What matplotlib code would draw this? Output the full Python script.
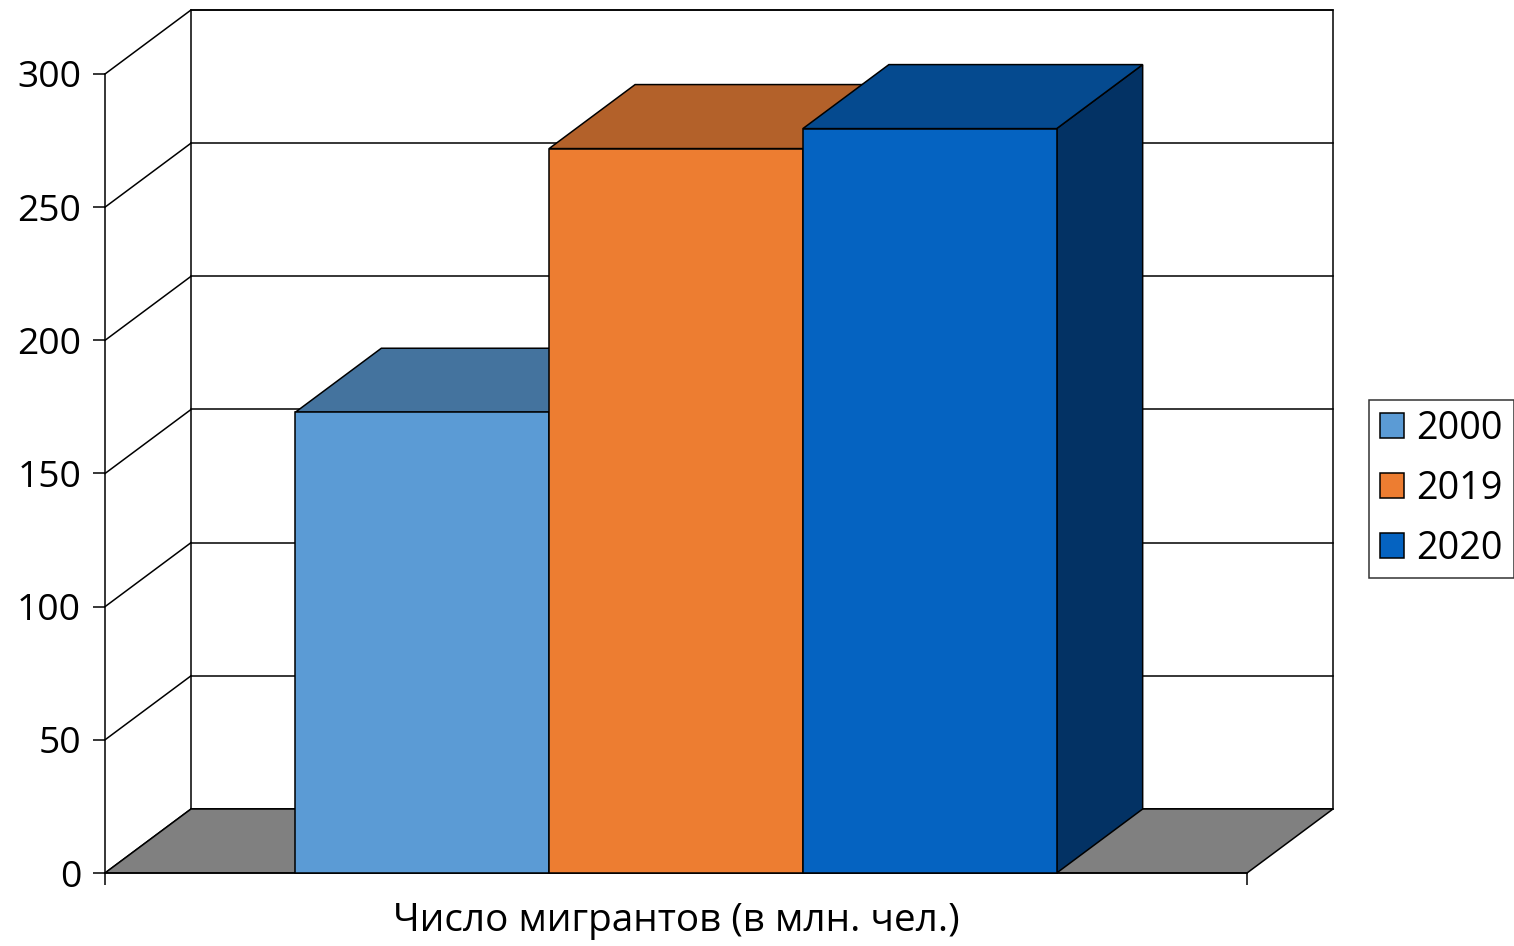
import numpy as np
import matplotlib.pyplot as plt
from matplotlib.patches import Polygon

# data
years = ["2000", "2019", "2020"]
migrants = [173, 272, 279.5]
y_ticks = [0, 50, 100, 150, 200, 250, 300]
x_label = "Число мигрантов (в млн. чел.)"

front_colors = ["#5B9BD5", "#ED7D31", "#0563C1"]
top_colors = ["#44739E", "#B3612A", "#054A8F"]
side_colors = ["#3A6288", "#9A5222", "#033264"]

plt.rcParams['font.family'] = ['Open Sans', 'DejaVu Sans']
FS = 26.8

fig = plt.figure(figsize=(15.14, 9.46), dpi=100)
W, H = 1514, 946
# front plane in pixels: x 105..1247, y 873 (0) .. 74 (300)
ax = fig.add_axes([105 / W, (H - 873) / H, 1142 / W, 799 / H])
ax.set_xlim(0, 1)
ax.set_ylim(0, 300)

# oblique depth offset (86 px right, 64 px up) in data units
px_x = 1 / 1142
px_y = 300 / 799
DX = 86 * px_x
DY = 64 * px_y
lw = 1.1

# back wall + gridlines
ax.add_patch(Polygon([(DX, DY), (1 + DX, DY), (1 + DX, 300 + DY), (DX, 300 + DY)],
                     closed=True, facecolor="white", edgecolor="black", lw=lw,
                     clip_on=False, zorder=0.5))
for t in y_ticks:
    ax.plot([DX, 1 + DX], [t + DY, t + DY], color="black", lw=lw, clip_on=False, zorder=0.6)
    ax.plot([0, DX], [t, t + DY], color="black", lw=lw, clip_on=False, zorder=0.6)

# floor
ax.add_patch(Polygon([(0, 0), (1, 0), (1 + DX, DY), (DX, DY)], closed=True,
                     facecolor="#808080", edgecolor="black", lw=lw,
                     clip_on=False, zorder=0.7))

# bars (gap width 150%)
n = len(migrants)
w = 1 / (n + 1.5)
handles = []
for i, (yr, v) in enumerate(zip(years, migrants)):
    x0 = 0.75 * w + i * w
    x1 = x0 + w
    z = 3 + 2 * i
    side = Polygon([(x1, 0), (x1 + DX, DY), (x1 + DX, v + DY), (x1, v)], closed=True,
                   facecolor=side_colors[i], edgecolor="black", lw=lw, clip_on=False, zorder=z)
    top = Polygon([(x0, v), (x1, v), (x1 + DX, v + DY), (x0 + DX, v + DY)], closed=True,
                  facecolor=top_colors[i], edgecolor="black", lw=lw, clip_on=False, zorder=z)
    ax.add_patch(side)
    ax.add_patch(top)
    b = ax.bar([x0], [v], width=w, align="edge", color=front_colors[i],
               edgecolor="black", lw=lw, label=yr, clip_on=False, zorder=z + 1)
    handles.append(b)

# axes styling
for s in ["top", "right"]:
    ax.spines[s].set_visible(False)
ax.spines["left"].set_linewidth(lw)
ax.spines["bottom"].set_linewidth(lw)
ax.set_yticks(y_ticks)
ax.set_xticks([0, 1])
ax.set_xticklabels(["", ""])
ax.tick_params(axis="both", direction="out", length=8.6, width=lw, pad=8.6, labelsize=FS)
ax.patch.set_visible(False)

ax.set_xlabel(x_label, fontsize=27.9)
ax.xaxis.set_label_coords(0.5, (873 - 921) / 799)
ax.xaxis.label.set_va("center")

leg = fig.legend(handles=handles, labels=years, loc="center left",
                 bbox_to_anchor=(1369 / W, (H - 489) / H), bbox_transform=fig.transFigure,
                 fontsize=27.2, frameon=True, fancybox=False, handlelength=0.65,
                 handleheight=0.65, handletextpad=0.33, labelspacing=0.58,
                 borderpad=0.28, borderaxespad=0)
leg.get_frame().set_edgecolor("black")
leg.get_frame().set_linewidth(lw)

fig.savefig("out.png", dpi=100)
